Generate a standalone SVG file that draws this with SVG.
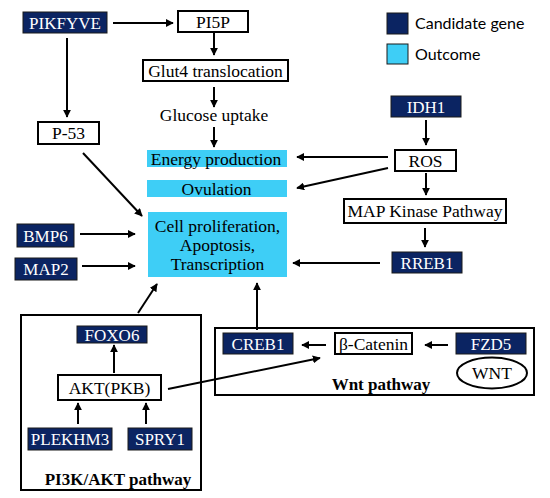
<svg xmlns="http://www.w3.org/2000/svg" width="550" height="498" viewBox="0 0 550 498">
<defs>
<marker id="ah" viewBox="0 0 10 10" refX="9" refY="5" markerWidth="4" markerHeight="4" orient="auto" markerUnits="strokeWidth">
<path d="M0,0 L10,5 L0,10 z" fill="#000"/>
</marker>
<style>
.gene{fill:#0b2462;stroke:#1a1a1a;stroke-width:1}
.plain{fill:#fff;stroke:#000;stroke-width:2}
.out{fill:#3ecef6}
.frame{fill:none;stroke:#000;stroke-width:2}
.t{font-family:"Liberation Serif",serif;font-size:17.5px;text-anchor:middle;fill:#000}
.tw{font-family:"Liberation Serif",serif;font-size:17px;text-anchor:middle;fill:#fff}
.tb{font-family:"Liberation Serif",serif;font-size:17px;font-weight:bold;text-anchor:middle;fill:#000}
.leg{font-family:"Lato","Open Sans",sans-serif;font-size:16px;fill:#000}
.c{stroke:#000;stroke-width:2;fill:none;marker-end:url(#ah)}
</style>
</defs>
<rect width="550" height="498" fill="#fff"/>

<g id="legend">
<rect x="387" y="13" width="21" height="21" class="gene"/>
<text x="415" y="29" class="leg">Candidate gene</text>
<rect x="387" y="44" width="21" height="20" class="out" stroke="#1a1a1a" stroke-width="1"/>
<text x="415" y="60" class="leg">Outcome</text>
</g>

<g id="frames">
<rect x="21" y="315" width="180" height="175" class="frame"/>
<text x="118" y="485" class="tb">PI3K/AKT pathway</text>
<rect x="215" y="328" width="319" height="67" class="frame"/>
<text x="381" y="390" class="tb">Wnt pathway</text>
</g>

<g id="connectors">
<line x1="113" y1="23" x2="173" y2="23" class="c"/>
<line x1="214" y1="33" x2="214" y2="55" class="c"/>
<line x1="214" y1="87" x2="214" y2="107" class="c"/>
<line x1="214" y1="127" x2="214" y2="147" class="c"/>
<line x1="67" y1="38" x2="67" y2="117" class="c"/>
<line x1="83" y1="153" x2="142" y2="216" class="c"/>
<line x1="80" y1="234" x2="135" y2="234" class="c"/>
<line x1="82" y1="266" x2="135" y2="266" class="c"/>
<line x1="138" y1="313" x2="157" y2="284" class="c"/>
<line x1="257" y1="330" x2="257" y2="283" class="c"/>
<line x1="426" y1="120" x2="426" y2="145" class="c"/>
<line x1="388" y1="157" x2="297" y2="157" class="c"/>
<line x1="388" y1="168" x2="297" y2="188" class="c"/>
<line x1="426" y1="173" x2="426" y2="195" class="c"/>
<line x1="425" y1="228" x2="425" y2="247" class="c"/>
<line x1="380" y1="263" x2="293" y2="263" class="c"/>
<line x1="114" y1="373" x2="114" y2="345" class="c"/>
<line x1="78" y1="424" x2="78" y2="403" class="c"/>
<line x1="146" y1="424" x2="146" y2="403" class="c"/>
<line x1="168" y1="389" x2="320" y2="358" class="c"/>
<line x1="326" y1="345" x2="302" y2="345" class="c"/>
<line x1="448" y1="345" x2="425" y2="345" class="c"/>
</g>

<g id="PIKFYVE"><rect x="23" y="12" width="84" height="21" class="gene"/><text x="65" y="28.5" class="tw">PIKFYVE</text></g>
<g id="PI5P"><rect x="178" y="11" width="70" height="21" class="plain"/><text x="213" y="27.5" class="t">PI5P</text></g>
<g id="Glut4"><rect x="143" y="60" width="145" height="21" class="plain"/><text x="215.5" y="76.5" class="t">Glut4 translocation</text></g>
<g id="Glucose"><text x="214" y="121" class="t">Glucose uptake</text></g>
<g id="P53"><rect x="38" y="122" width="61" height="22" class="plain"/><text x="68.5" y="139" class="t">P-53</text></g>
<g id="Energy"><rect x="147" y="150" width="140" height="17" class="out"/><text x="216" y="164.5" class="t">Energy production</text></g>
<g id="Ovulation"><rect x="147" y="180" width="140" height="17" class="out"/><text x="216.5" y="194.5" class="t">Ovulation</text></g>
<g id="Cell"><rect x="148" y="212" width="139" height="65" class="out"/>
<text x="217.5" y="232" class="t">Cell proliferation,</text>
<text x="217.5" y="251" class="t">Apoptosis,</text>
<text x="217.5" y="270" class="t">Transcription</text></g>
<g id="BMP6"><rect x="17" y="224" width="57" height="23" class="gene"/><text x="45.5" y="241.5" class="tw">BMP6</text></g>
<g id="MAP2"><rect x="15" y="258" width="62" height="22" class="gene"/><text x="46" y="275" class="tw">MAP2</text></g>
<g id="IDH1"><rect x="391" y="96" width="70" height="21" class="gene"/><text x="426" y="112.5" class="tw">IDH1</text></g>
<g id="ROS"><rect x="395" y="150" width="61" height="21" class="plain"/><text x="425.5" y="166.5" class="t">ROS</text></g>
<g id="MAPK"><rect x="344" y="199" width="162" height="24" class="plain"/><text x="425" y="217" class="t">MAP Kinase Pathway</text></g>
<g id="RREB1"><rect x="392" y="252" width="70" height="21" class="gene"/><text x="427" y="268.5" class="tw">RREB1</text></g>
<g id="FOXO6"><rect x="77" y="326" width="70" height="17" class="gene"/><text x="112" y="340.5" class="tw">FOXO6</text></g>
<g id="AKT"><rect x="58" y="375" width="103" height="25" class="plain"/><text x="109.5" y="393.5" class="t">AKT(PKB)</text></g>
<g id="PLEKHM3"><rect x="28" y="428" width="84" height="22" class="gene"/><text x="70" y="445" class="tw">PLEKHM3</text></g>
<g id="SPRY1"><rect x="128" y="428" width="64" height="22" class="gene"/><text x="160" y="445" class="tw">SPRY1</text></g>
<g id="CREB1"><rect x="223" y="333" width="70" height="21" class="gene"/><text x="258" y="349.5" class="tw">CREB1</text></g>
<g id="BetaCatenin"><rect x="335" y="333" width="77" height="21" class="plain"/><text x="373.5" y="349.5" class="t">β-Catenin</text></g>
<g id="FZD5"><rect x="456" y="333" width="70" height="21" class="gene"/><text x="491" y="349.5" class="tw">FZD5</text></g>
<g id="WNT"><ellipse cx="492" cy="373" rx="35" ry="15.5" fill="#fff" stroke="#000" stroke-width="2"/><text x="492" y="379" class="t">WNT</text></g>
</svg>
